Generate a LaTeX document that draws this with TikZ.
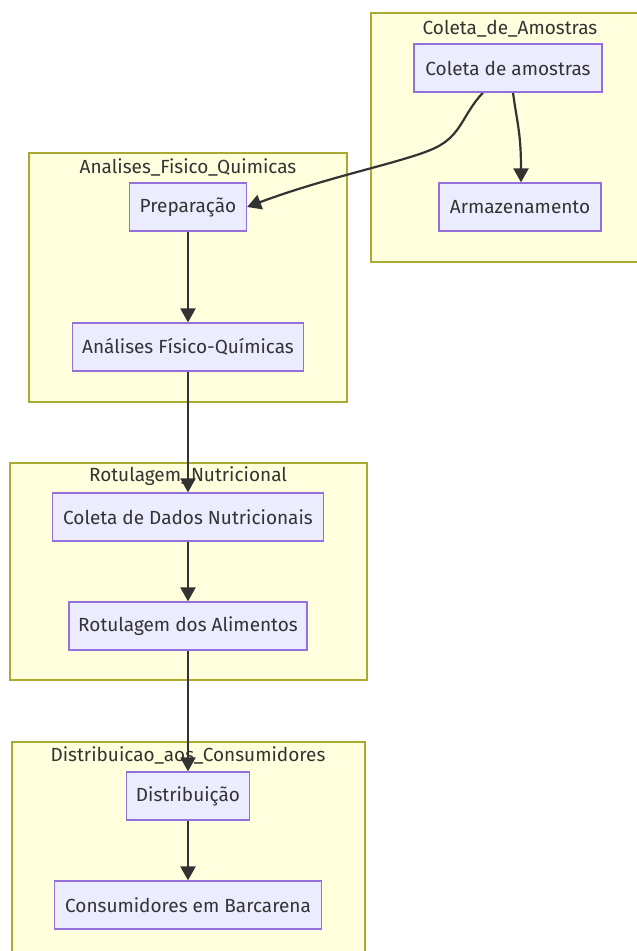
\documentclass[tikz,border=0pt]{standalone}
\usepackage{fontspec}
\setmainfont{Fira Sans}
\usetikzlibrary{arrows.meta}
\definecolor{clfill}{HTML}{FFFFDE}
\definecolor{cldraw}{HTML}{AAAA33}
\definecolor{ndfill}{HTML}{ECECFF}
\definecolor{nddraw}{HTML}{9370DB}
\definecolor{edge}{HTML}{333333}
\definecolor{txt}{HTML}{333333}
\tikzset{
  cluster/.style={fill=clfill,draw=cldraw,line width=1.2pt},
  ctitle/.style={text=txt,font=\fontsize{19}{21}\selectfont,inner sep=0pt},
  box/.style={rectangle,fill=ndfill,draw=nddraw,line width=1.2pt,minimum height=48pt,inner sep=0pt,text=txt,font=\fontsize{19}{21}\selectfont},
  flow/.style={draw=edge,line width=2.2pt,-{Triangle[length=14pt,width=15pt]}}
}
\begin{document}
\begin{tikzpicture}[x=1pt,y=-1pt]
\useasboundingbox (0,0) rectangle (637,951);
\fill[white] (0,0) rectangle (637,951);
% clusters
\draw[cluster] (371,13) rectangle (640,262);
\draw[cluster] (29,153) rectangle (347,402);
\draw[cluster] (10,463) rectangle (367,680);
\draw[cluster] (12,742) rectangle (365,955);
\node[ctitle] (tA) at (510,29) {Coleta\_de\_Amostras};
\node[ctitle] (tB) at (188,167) {Analises\_Fisico\_Quimicas};
\node[ctitle] (tC) at (188,476) {Rotulagem\_Nutricional};
\node[ctitle] (tD) at (188,755) {Distribuicao\_aos\_Consumidores};
% nodes
\node[box,minimum width=188pt] (c1) at (508,68) {Coleta de amostras};
\node[box,minimum width=162pt] (arm) at (520,207) {Armazenamento};
\node[box,minimum width=117pt] (prep) at (188,207) {Preparação};
\node[box,minimum width=231pt] (anal) at (188,347) {Análises Físico-Químicas};
\node[box,minimum width=271pt] (cdn) at (188,517) {Coleta de Dados Nutricionais};
\node[box,minimum width=238pt] (rot) at (188,626) {Rotulagem dos Alimentos};
\node[box,minimum width=123pt] (dist) at (188,796) {Distribuição};
\node[box,minimum width=267pt] (cons) at (188,905) {Consumidores em Barcarena};
% edges
\draw[flow] ([xshift=5pt]c1.south) .. controls ([xshift=9pt,yshift=-30pt]c1.south) and ([xshift=1pt,yshift=50pt]arm.north) .. ([xshift=1pt]arm.north);
\draw[flow] ([xshift=-25pt]c1.south) .. controls (462,115) and (462,135) .. (435,148) .. controls (405,162) and (330,176) .. (prep.east);
\draw[flow] (prep) -- (anal);
\draw[flow] (anal) -- (cdn);
\draw[flow] (cdn) -- (rot);
\draw[flow] (rot) -- (dist);
\draw[flow] (dist) -- (cons);
% redraw nodes above edges
\node[box,minimum width=188pt] at (c1) {Coleta de amostras};
\node[box,minimum width=231pt] at (anal) {Análises Físico-Químicas};
\node[box,minimum width=271pt] at (cdn) {Coleta de Dados Nutricionais};
\node[box,minimum width=238pt] at (rot) {Rotulagem dos Alimentos};
\node[box,minimum width=123pt] at (dist) {Distribuição};
\node[box,minimum width=117pt] at (prep) {Preparação};
\end{tikzpicture}
\end{document}
